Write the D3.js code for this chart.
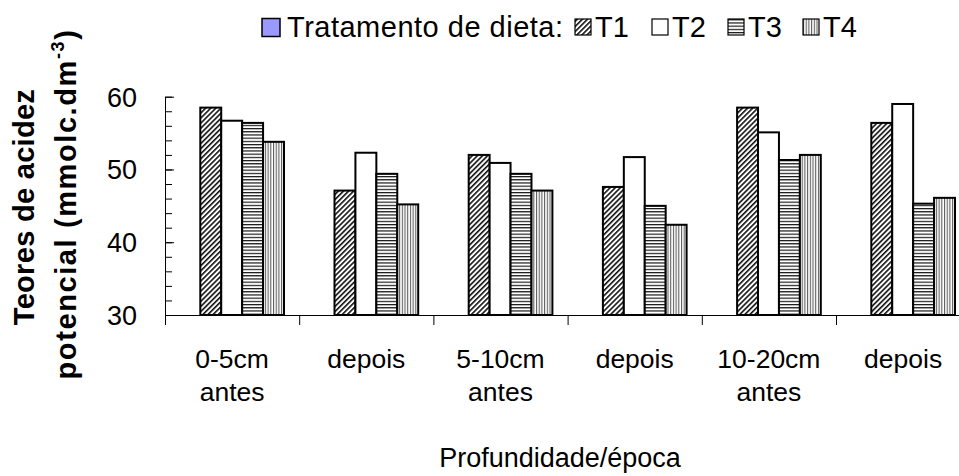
<!DOCTYPE html>
<html>
<head>
<meta charset="utf-8">
<script src="https://d3js.org/d3.v7.min.js"></script>
<style>
  body { margin: 0; background: #fff; }
  text { font-family: "Liberation Sans", Arial, sans-serif; fill: #000; }
</style>
</head>
<body>
<svg id="chart" width="959" height="476"></svg>

<script>

// Data
const categories = [["0-5cm", "antes"], ["depois"], ["5-10cm", "antes"], ["depois"], ["10-20cm", "antes"], ["depois"]];
const series = ["T1", "T2", "T3", "T4"];
const T1 = [58.5, 47.1, 52.0, 47.6, 58.5, 56.4];
const T2 = [56.7, 52.3, 50.9, 51.7, 55.1, 59.0];
const T3 = [56.4, 49.4, 49.4, 45.0, 51.3, 45.3];
const T4 = [53.8, 45.2, 47.1, 42.4, 52.0, 46.1];
const majorTicks = [30, 40, 50, 60];
const minorTicks = d3.range(30, 61, 2);

const values = { T1: T1, T2: T2, T3: T3, T4: T4 };

// SVG setup
const svg = d3.select("#chart");
const plotLeft = 165, plotBottom = 315, plotTop = 96.7, step = 134.2;

const x = d3.scaleBand().domain(d3.range(categories.length))
            .range([plotLeft, plotLeft + step * categories.length]).padding(0);
const xInner = d3.scaleBand().domain(series).range([35.3, 119]).padding(0);
const xEdge = d3.scaleLinear().domain([0, categories.length]).range(x.range());
const y = d3.scaleLinear().domain([30, 60]).range([plotBottom, plotTop]);

// Patterns
const defs = svg.append("defs");

let p1 = defs.append("pattern").attr("id", "pT1").attr("patternUnits", "userSpaceOnUse")
             .attr("width", 3.6).attr("height", 3.6).attr("patternTransform", "rotate(45)");
p1.append("rect").attr("width", 3.6).attr("height", 3.6).attr("fill", "#fff");
p1.append("line").attr("x1", 0.8).attr("x2", 0.8).attr("y1", 0).attr("y2", 3.6)
  .attr("stroke", "#000").attr("stroke-width", 1.5);

let p3 = defs.append("pattern").attr("id", "pT3").attr("patternUnits", "userSpaceOnUse")
             .attr("width", 4).attr("height", 3.2);
p3.append("rect").attr("width", 4).attr("height", 3.2).attr("fill", "#fff");
p3.append("line").attr("x1", 0).attr("x2", 4).attr("y1", 0.6).attr("y2", 0.6)
  .attr("stroke", "#000").attr("stroke-width", 1.1);

let p4 = defs.append("pattern").attr("id", "pT4").attr("patternUnits", "userSpaceOnUse")
             .attr("width", 2.7).attr("height", 4);
p4.append("rect").attr("width", 2.7).attr("height", 4).attr("fill", "#fff");
p4.append("line").attr("x1", 0.6).attr("x2", 0.6).attr("y1", 0).attr("y2", 4)
  .attr("stroke", "#333").attr("stroke-width", 0.9);

const fills = { T1: "url(#pT1)", T2: "#fff", T3: "url(#pT3)", T4: "url(#pT4)" };

// Bars
const groups = svg.append("g").selectAll("g.group").data(categories)
                  .join("g").attr("class", "group")
                  .attr("transform", (d, i) => `translate(${x(i)},0)`);

groups.selectAll("rect.bar")
      .data((d, i) => series.map(s => ({ s: s, v: values[s][i] })))
      .join("rect").attr("class", "bar")
      .attr("x", d => xInner(d.s))
      .attr("width", xInner.bandwidth())
      .attr("y", d => y(d.v))
      .attr("height", d => plotBottom - y(d.v))
      .attr("fill", d => fills[d.s])
      .attr("stroke", "#000").attr("stroke-width", 2);

// Y axis
svg.append("g").attr("transform", `translate(${plotLeft},0)`)
   .call(d3.axisLeft(y).tickValues(minorTicks).tickSize(-7).tickSizeOuter(0).tickFormat(""));

let yAxis = svg.append("g").attr("transform", `translate(${plotLeft},0)`)
   .call(d3.axisLeft(y).tickValues(majorTicks).tickSize(-9).tickSizeOuter(0).tickPadding(28));
yAxis.selectAll("text").attr("font-size", 27).attr("font-family", "Liberation Sans, Arial, sans-serif")
     .attr("dy", "0.35em");

// X axis with ticks between categories
svg.append("g").attr("transform", `translate(0,${plotBottom})`)
   .call(d3.axisBottom(xEdge).tickValues(d3.range(categories.length + 1))
           .tickSize(10).tickSizeOuter(0).tickFormat(""));

// Category labels
let labels = svg.append("g").selectAll("text.cat").data(categories)
                .join("text").attr("class", "cat")
                .attr("text-anchor", "middle").attr("font-size", 26.5)
                .attr("x", (d, i) => x(i) + x.bandwidth() / 2)
                .attr("y", 368);
labels.selectAll("tspan").data(d => d).join("tspan")
      .attr("x", function () { return this.parentNode.getAttribute("x"); })
      .attr("dy", (d, i) => i === 0 ? 0 : 33)
      .text(d => d);

// Axis titles
svg.append("text").attr("x", 560).attr("y", 466.5).attr("text-anchor", "middle")
   .attr("font-size", 27).text("Profundidade/época");

let yTitle = svg.append("text").attr("transform", "translate(0,207) rotate(-90)")
                .attr("text-anchor", "middle").attr("font-size", 29).attr("font-weight", "bold")
                .attr("letter-spacing", 0.3);
yTitle.append("tspan").attr("x", 0).attr("y", 33.5).text("Teores de acidez");
let yTitle2 = svg.append("text").attr("transform", "translate(0,204) rotate(-90)")
                .attr("text-anchor", "middle").attr("font-size", 29).attr("font-weight", "bold")
                .attr("letter-spacing", 1.6).attr("y", 76);
yTitle2.append("tspan").text("potencial (mmolc.dm");
yTitle2.append("tspan").attr("font-size", 18).attr("dy", -12).text("-3");
yTitle2.append("tspan").attr("dy", 12).text(")");

// Legend
const legend = svg.append("g");
legend.append("rect").attr("x", 262).attr("y", 18.5).attr("width", 18).attr("height", 18)
      .attr("fill", "#9999ff").attr("stroke", "#000").attr("stroke-width", 1.5);
legend.append("text").attr("x", 287).attr("y", 36.5).attr("font-size", 29)
      .attr("letter-spacing", 0.5).text("Tratamento de dieta:");

const legendX = d3.scaleOrdinal().domain(series).range([575, 652, 728, 803]);
let items = legend.selectAll("g.item").data(series).join("g").attr("class", "item")
                  .attr("transform", d => `translate(${legendX(d)},0)`);
items.append("rect").attr("x", 0).attr("y", 19).attr("width", 16).attr("height", 16)
     .attr("fill", d => fills[d]).attr("stroke", "#000").attr("stroke-width", 1.2);
items.append("text").attr("x", 20).attr("y", 36.5).attr("font-size", 29).text(d => d);

</script>
</body>
</html>
